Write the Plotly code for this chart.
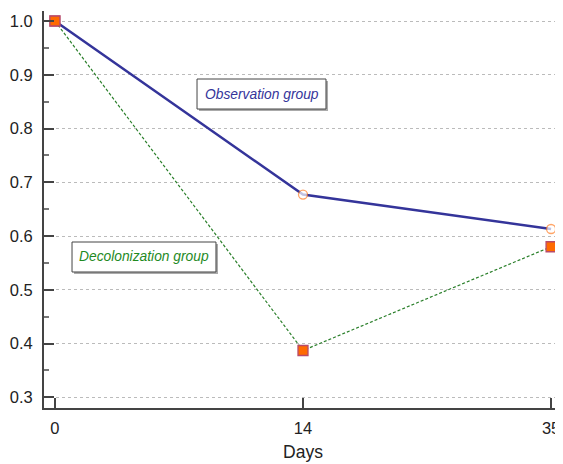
import plotly.graph_objects as go

days = ["0", "14", "35"]
observation = [1.0, 0.677, 0.613]
decolonization = [1.0, 0.387, 0.580]
y_ticks = [0.3, 0.4, 0.5, 0.6, 0.7, 0.8, 0.9, 1.0]

xi = list(range(len(days)))

fig = go.Figure()
fig.add_trace(go.Scatter(
    x=xi, y=observation, mode="lines+markers",
    line=dict(color="#34349a", width=2.5),
    marker=dict(symbol=["square", "circle", "circle"], size=[10, 9, 9],
                color=["#ff6a00", "white", "white"],
                line=dict(color=["#b84a6a", "#ff7f27", "#ff7f27"], width=1.3)),
    showlegend=False, cliponaxis=False,
))
fig.add_trace(go.Scatter(
    x=xi, y=decolonization, mode="lines+markers",
    line=dict(color="#2a7f2a", width=1.2, dash="3px,2px"),
    marker=dict(symbol="square", size=10, color="#ff6a00",
                line=dict(color="#b84a6a", width=1.3)),
    showlegend=False, cliponaxis=False,
))

# label boxes (paper coords) with a small drop shadow
def box(x0, x1, y0, y1, tx, ty, text, color):
    fig.add_shape(type="rect", xref="paper", yref="paper",
                  x0=x0 + 0.0039, x1=x1 + 0.0039, y0=y0 - 0.005, y1=y1 - 0.005,
                  fillcolor="#aaaaaa", line=dict(width=0))
    fig.add_shape(type="rect", xref="paper", yref="paper",
                  x0=x0, x1=x1, y0=y0, y1=y1,
                  fillcolor="white", line=dict(color="#444", width=1))
    fig.add_annotation(x=tx, y=ty, xref="paper", yref="paper", text="<i>" + text + "</i>",
                       showarrow=False, xanchor="center", yanchor="middle",
                       font=dict(color=color, size=13.8, family="Liberation Sans"))

box(0.2954, 0.5444, 0.7531, 0.8287, 0.4199, 0.7909, "Observation group", "#34349a")
box(0.0541, 0.3320, 0.3426, 0.4181, 0.1931, 0.3804, "Decolonization group", "#1f8a1f")

# the page body adds an 8px offset, so the figure is sized/margined to compensate
fig.update_layout(
    width=555, height=456,
    margin=dict(l=36, r=1, t=3, b=56),
    paper_bgcolor="white", plot_bgcolor="white",
    font=dict(family="Liberation Sans", size=16.5, color="#222"),
    xaxis=dict(
        range=[-0.044, 2.044], tickmode="array", tickvals=xi, ticktext=days,
        showgrid=False, zeroline=False, showline=True, linecolor="#444", linewidth=2,
        ticks="inside", ticklen=10, tickwidth=2, tickcolor="#444",
        title=dict(text="Days", standoff=10, font=dict(size=17.5)),
        automargin=False, ticklabelstandoff=4,
    ),
    yaxis=dict(
        range=[0.28, 1.0186], tickmode="array", tickvals=y_ticks,
        ticktext=[f"{v:.1f}" for v in y_ticks],
        showgrid=True, gridcolor="#bbbbbb", griddash="dot", gridwidth=1,
        zeroline=False, showline=True, linecolor="#444", linewidth=2,
        ticks="inside", ticklen=10, tickwidth=2, tickcolor="#444",
        minor=dict(ticks="inside", ticklen=5, tickwidth=1.5, tickcolor="#777",
                   tickvals=[0.35, 0.45, 0.55, 0.65, 0.75, 0.85, 0.95], showgrid=False),
        ticklabelstandoff=6, automargin=False,
    ),
)

fig.write_html("out.html")
